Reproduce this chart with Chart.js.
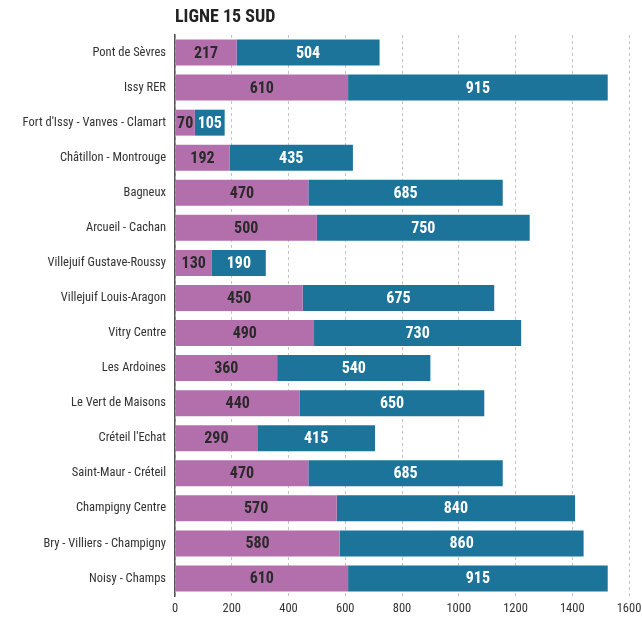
<!DOCTYPE html>
<html>
<head>
<meta charset="utf-8">
<script src="https://cdn.jsdelivr.net/npm/chart.js@4"></script>
<style>
  body { margin: 0; background: #fff; }
  #wrap { width: 642px; height: 620px; }
</style>
</head>
<body>
<div id="wrap"><canvas id="chart" width="642" height="620"></canvas></div>
<script>
var stations = ['Pont de Sèvres', 'Issy RER', "Fort d'Issy - Vanves - Clamart", 'Châtillon - Montrouge',
  'Bagneux', 'Arcueil - Cachan', 'Villejuif Gustave-Roussy', 'Villejuif Louis-Aragon', 'Vitry Centre',
  'Les Ardoines', 'Le Vert de Maisons', "Créteil l'Echat", 'Saint-Maur - Créteil', 'Champigny Centre',
  'Bry - Villiers - Champigny', 'Noisy - Champs'];
var first = [217, 610, 70, 192, 470, 500, 130, 450, 490, 360, 440, 290, 470, 570, 580, 610];
var second = [504, 915, 105, 435, 685, 750, 190, 675, 730, 540, 650, 415, 685, 840, 860, 915];
var xTicks = [0, 200, 400, 600, 800, 1000, 1200, 1400, 1600];

var narrow = "'Roboto Condensed', 'Liberation Sans Narrow', 'DejaVu Sans Condensed', Roboto, sans-serif";

// values written in the middle of each segment
var barLabels = {
  id: 'barLabels',
  afterDatasetsDraw: function(chart) {
    var ctx = chart.ctx;
    ctx.save();
    ctx.font = 'bold 16px ' + narrow;
    ctx.textAlign = 'center';
    ctx.textBaseline = 'middle';
    chart.data.datasets.forEach(function(ds, i) {
      var meta = chart.getDatasetMeta(i);
      ctx.fillStyle = i === 0 ? '#2a2a2a' : '#ffffff';
      meta.data.forEach(function(bar, j) {
        ctx.fillText(ds.data[j], (bar.x + bar.base) / 2, bar.y + 1);
      });
    });
    ctx.restore();
  }
};

var titleLeft = {
  id: 'titleLeft',
  afterDraw: function(chart) {
    var ctx = chart.ctx;
    ctx.save();
    ctx.font = 'bold 18px ' + narrow;
    ctx.fillStyle = '#222';
    ctx.textBaseline = 'alphabetic';
    ctx.fillText('LIGNE 15 SUD', chart.chartArea.left, 22);
    ctx.restore();
  }
};

function drawChart() {
  var ctx = document.getElementById('chart');
  new Chart(ctx, {
    type: 'bar',
    data: {
      labels: stations,
      datasets: [{
        data: first,
        backgroundColor: '#b26fab',
        categoryPercentage: 0.74,
        barPercentage: 1
      }, {
        data: second,
        backgroundColor: '#1c749b',
        categoryPercentage: 0.74,
        barPercentage: 1
      }]
    },
    options: {
      indexAxis: 'y',
      responsive: false,
      animation: false,
      layout: { padding: { top: 35, right: 0, bottom: 0, left: 0 } },
      plugins: { legend: { display: false }, tooltip: { enabled: false } },
      scales: {
        x: {
          stacked: true,
          min: 0,
          max: 1600,
          afterBuildTicks: function(scale) {
            scale.ticks = xTicks.map(function(v) { return { value: v }; });
          },
          afterFit: function(scale) {
            scale.height = 24;
            scale.paddingRight = 13;
          },
          grid: { color: '#c4c4c4', lineWidth: 1, drawTicks: false },
          border: { display: false, dash: [3, 3] },
          ticks: {
            color: '#333',
            font: { family: narrow, size: 12.5 },
            padding: 5,
            callback: function(v) { return String(v); }
          }
        },
        y: {
          stacked: true,
          afterFit: function(scale) { scale.width = 175; },
          grid: { display: false },
          border: { color: '#555', width: 1.5 },
          ticks: { color: '#333', font: { family: narrow, size: 12.5 }, padding: 1 }
        }
      }
    },
    plugins: [barLabels, titleLeft]
  });
}

drawChart();
</script>
</body>
</html>
